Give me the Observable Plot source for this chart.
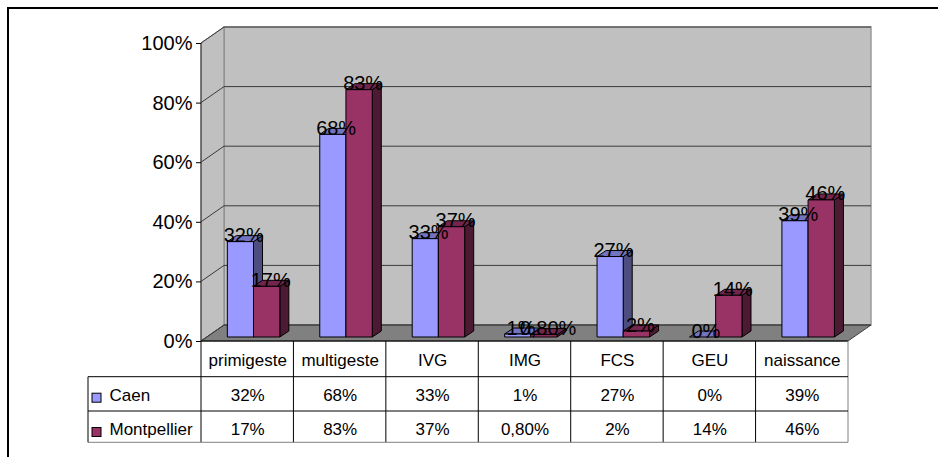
<!DOCTYPE html>
<html><head><meta charset="utf-8">
<script src="https://cdn.jsdelivr.net/npm/d3@7"></script>
<script src="https://cdn.jsdelivr.net/npm/@observablehq/plot@0.6"></script>
<style>
html,body{margin:0;padding:0;background:#fff;overflow:hidden}
#wrap{position:relative;width:938px;height:457px}
#chart svg{display:block}
#border{position:absolute;left:7px;top:7px;width:940px;height:460px;border-left:2px solid #000;border-top:2px solid #000;pointer-events:none}
</style></head>
<body><div id="wrap"><div id="chart"></div><div id="border"></div></div>
<script>
const categories = ["primigeste","multigeste","IVG","IMG","FCS","GEU","naissance"];
const caen = [0.32, 0.68, 0.33, 0.01, 0.27, 0.00, 0.39];
const montpellier = [0.17, 0.83, 0.37, 0.008, 0.02, 0.14, 0.46];
const caenLabels = ["32%","68%","33%","1%","27%","0%","39%"];
const montpellierLabels = ["17%","83%","37%","0,80%","2%","14%","46%"];
const seriesNames = ["Caen","Montpellier"];
const yTicks = [0, 0.2, 0.4, 0.6, 0.8, 1];

const caenColors = {front: "#9999FF", top: "#7373BF", side: "#4D4D80"};
const montColors = {front: "#993366", top: "#73264D", side: "#4D1A33"};

// 3D geometry (pixels)
const WX = 23, WY = 16;   // wall depth
const BY = 4;             // bar base offset into the depth
const DX = 9, DY = 6;     // bar depth

function bandwidthOf(x, dim) {
  if (typeof x.bandwidth === "function") return x.bandwidth();
  if (typeof x.bandwidth === "number") return x.bandwidth;
  return (dim.width - dim.marginLeft - dim.marginRight) / categories.length;
}

function walls(index, scales, values, dim) {
  const {x, y} = scales;
  const bw = bandwidthOf(x, dim);
  const x0 = x(categories[0]), x1 = x(categories[categories.length - 1]) + bw;
  const y0 = y(0), y1 = y(1);
  const g = d3.create("svg:g");
  // back wall
  g.append("path").attr("d", `M${x0+WX},${y0-WY}L${x0+WX},${y1-WY}L${x1+WX},${y1-WY}L${x1+WX},${y0-WY}Z`)
    .attr("fill", "#C0C0C0").attr("stroke", "#9A9A9A").attr("stroke-width", 1.5);
  // left wall
  g.append("path").attr("d", `M${x0},${y0}L${x0},${y1}L${x0+WX},${y1-WY}L${x0+WX},${y0-WY}Z`)
    .attr("fill", "#C0C0C0").attr("stroke", "#808080");
  // floor
  g.append("path").attr("d", `M${x0},${y0}L${x0+WX},${y0-WY}L${x1+WX},${y0-WY}L${x1},${y0}Z`)
    .attr("fill", "#808080").attr("stroke", "#404040");
  // gridlines on left and back walls
  for (const t of yTicks) {
    const yy = y(t);
    g.append("path").attr("d", `M${x0},${yy}L${x0+WX},${yy-WY}L${x1+WX},${yy-WY}`)
      .attr("fill", "none").attr("stroke", "#3a3a3a").attr("stroke-width", 1);
  }
  // front vertical edge (axis line)
  g.append("path").attr("d", `M${x0},${y0}L${x0},${y1}`).attr("stroke", "#333").attr("stroke-width", 1);
  return g.node();
}

function prism(vals, col, f0, f1) {
  return (index, scales, values, dim) => {
    const {x, y} = scales;
    const bw = bandwidthOf(x, dim);
    const g = d3.create("svg:g").attr("stroke", "#000").attr("stroke-width", 1).attr("stroke-linejoin", "round");
    categories.forEach((c, i) => {
      const xl = x(c) + f0 * bw, xr = x(c) + f1 * bw;
      const yb = y(0) - BY, yt = y(vals[i]) - BY;
      g.append("path").attr("d", `M${xr},${yb}L${xr+DX},${yb-DY}L${xr+DX},${yt-DY}L${xr},${yt}Z`).attr("fill", col.side);
      g.append("path").attr("d", `M${xl},${yt}L${xl+DX},${yt-DY}L${xr+DX},${yt-DY}L${xr},${yt}Z`).attr("fill", col.top);
      g.append("rect").attr("x", xl).attr("y", yt).attr("width", xr - xl).attr("height", Math.max(0, yb - yt)).attr("fill", col.front);
    });
    return g.node();
  };
}

function table(index, scales, values, dim) {
  const {x, y} = scales;
  const bw = bandwidthOf(x, dim);
  const x0 = x(categories[0]), x1 = x(categories[categories.length - 1]) + bw;
  const y0 = y(0);
  const r1 = y0 + 35.7, r2 = y0 + 70, r3 = y0 + 101.3;
  const lx = x0 - 113;
  const g = d3.create("svg:g").attr("fill", "none").attr("stroke-width", 1);
  const line = (a, b, c, d, s) => g.append("path").attr("d", `M${a},${b}L${c},${d}`).attr("stroke", s || "#000");
  line(x0, y0, x1, y0);
  categories.forEach(c => line(x(c), y0, x(c), r3));
  line(x1, y0, x1, r3, "#808080");
  line(lx, r1, x1, r1);
  line(lx, r2, x1, r2);
  line(lx, r3, x1, r3, "#808080");
  line(lx, r1, lx, r3);
  // legend swatches
  [caenColors, montColors].forEach((col, k) => {
    g.append("rect").attr("x", x0 - 109).attr("y", (k === 0 ? r1 : r2) + 16.5).attr("width", 9).attr("height", 9)
      .attr("fill", col.front).attr("stroke", "#000");
  });
  return g.node();
}

const font = "'Liberation Sans', Arial, Helvetica, sans-serif";

const chart = Plot.plot({
  width: 938,
  height: 457,
  marginLeft: 201,
  marginRight: 90,
  marginTop: 43,
  marginBottom: 116,
  style: {fontFamily: font, background: "transparent", color: "#000"},
  x: {type: "band", domain: categories, padding: 0, round: false},
  y: {domain: [0, 1]},
  marks: [
    walls,
    Plot.axisY({ticks: yTicks, tickFormat: d3.format(".0%"), tickSize: 5, tickPadding: 4, fontSize: 20, label: null}),
    prism(caen, caenColors, 0.285, 0.568),
    prism(montpellier, montColors, 0.568, 0.853),
    Plot.text(categories, {x: d => d, y: (d, i) => caen[i], text: (d, i) => caenLabels[i], dx: -4, dy: -BY, lineAnchor: "bottom", fontSize: 20}),
    Plot.text(categories, {x: d => d, y: (d, i) => montpellier[i], text: (d, i) => montpellierLabels[i], dx: 23, dy: -BY, lineAnchor: "bottom", fontSize: 20}),
    table,
    Plot.axisX({tickSize: 0, tickPadding: 12, fontSize: 17, label: null}),
    Plot.text(categories, {x: d => d, text: (d, i) => caenLabels[i], frameAnchor: "bottom", lineAnchor: "bottom", dy: 59, fontSize: 17}),
    Plot.text(categories, {x: d => d, text: (d, i) => montpellierLabels[i], frameAnchor: "bottom", lineAnchor: "bottom", dy: 93, fontSize: 17}),
    Plot.text([seriesNames[0]], {text: d => d, frameAnchor: "bottom-left", textAnchor: "start", lineAnchor: "bottom", dx: -92, dy: 59, fontSize: 17}),
    Plot.text([seriesNames[1]], {text: d => d, frameAnchor: "bottom-left", textAnchor: "start", lineAnchor: "bottom", dx: -92, dy: 93, fontSize: 17})
  ]
});
document.getElementById("chart").appendChild(chart);
</script>
</body></html>
